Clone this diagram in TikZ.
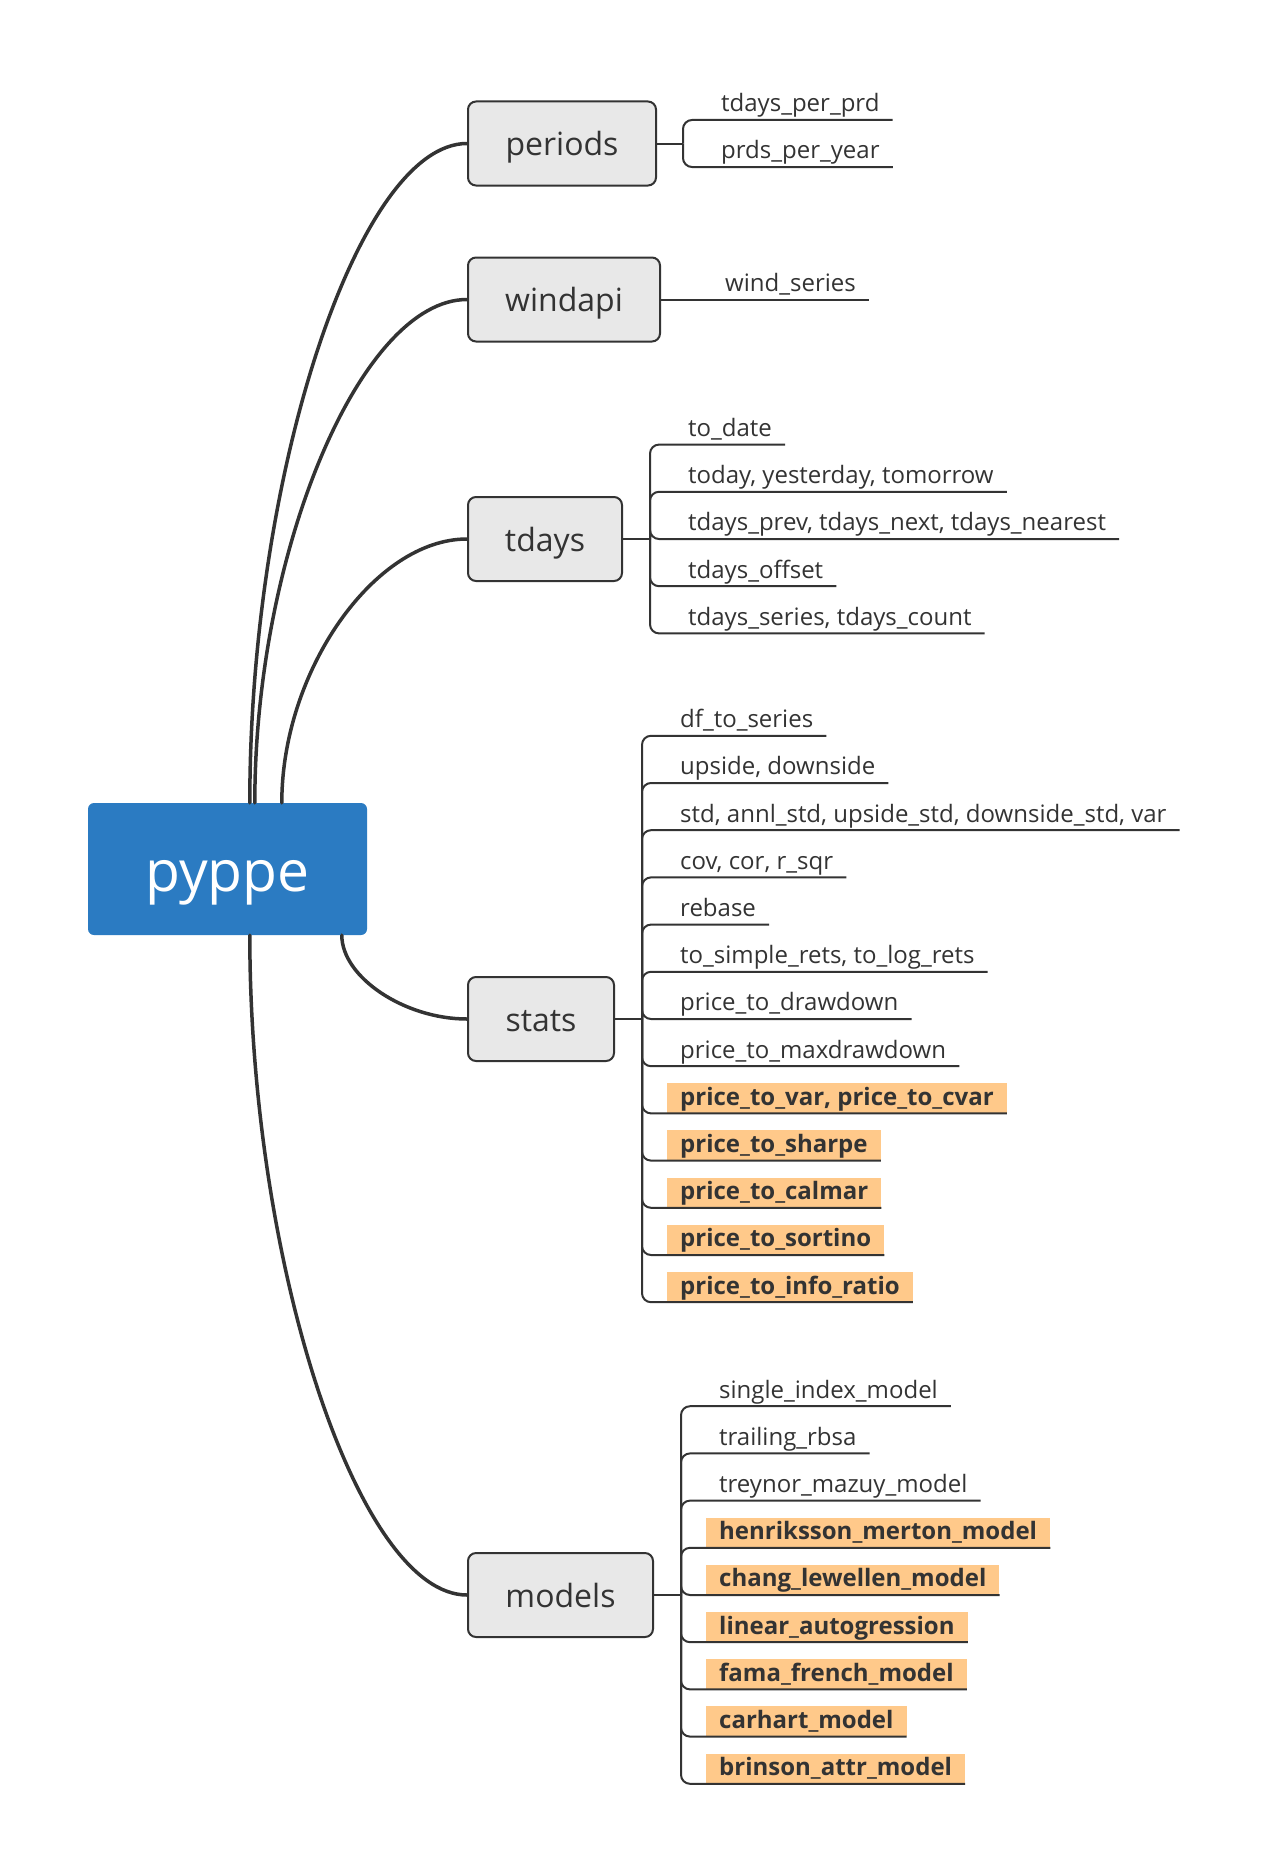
\documentclass[tikz,border=0pt]{standalone}
\usepackage{fontspec}
\setmainfont{Open Sans}
\usetikzlibrary{calc}
\definecolor{ink}{HTML}{333333}
\definecolor{rootblue}{HTML}{2B7BC2}
\definecolor{boxgray}{HTML}{E8E8E8}
\definecolor{hl}{HTML}{FFC98A}
\tikzset{
  rootbox/.style={fill=rootblue, rounded corners=6pt, text=white, font=\fontsize{57}{62}\selectfont, text height=60.9pt, text depth=16.7pt, minimum width=279pt, minimum height=132pt, inner sep=0pt},
  topic/.style={fill=boxgray, draw=ink, line width=2pt, rounded corners=8pt, text=ink, font=\fontsize{32}{36}\selectfont, text height=34.2pt, text depth=9.4pt, minimum height=84pt, inner sep=0pt, anchor=west},
  leaf/.style={anchor=south west, inner xsep=13pt, inner ysep=0pt, text height=22pt, text depth=8pt, text=ink, font=\fontsize{24}{28}\selectfont},
  hleaf/.style={leaf, fill=hl, font=\fontsize{24}{28}\selectfont\bfseries},
  trunk/.style={draw=ink, line width=3.5pt, line cap=round},
  twig/.style={draw=ink, line width=2pt, rounded corners=9pt},
}
\begin{document}
\begin{tikzpicture}[x=1pt, y=-1pt]
\useasboundingbox (0,0) rectangle (1265,1873);

% root
\node[rootbox] (root) at (227.5,869) {pyppe};

% topics
\node[topic, minimum width=188pt] (periods) at (467,143.5) {periods};
\node[topic, minimum width=192pt] (windapi) at (467,299.5) {windapi};
\node[topic, minimum width=154pt] (tdays) at (467,539) {tdays};
\node[topic, minimum width=146pt] (stats) at (467,1019) {stats};
\node[topic, minimum width=185pt] (models) at (467,1595) {models};

% trunk start points
\coordinate (r1) at ($(root.north west)+(162,0)$);
\coordinate (r2) at ($(root.north west)+(167,0)$);
\coordinate (r3) at ($(root.north west)+(194,0)$);
\coordinate (r4) at ($(root.south west)+(254,0)$);
\coordinate (r5) at ($(root.south west)+(162,0)$);

\draw[trunk] (r1) .. controls ($(r1)!0.5!(r1|-periods.west)$) and ($(periods.west)!0.5!(r1|-periods.west)$) .. (periods.west);
\draw[trunk] (r2) .. controls ($(r2)!0.5!(r2|-windapi.west)$) and ($(windapi.west)!0.5!(r2|-windapi.west)$) .. (windapi.west);
\draw[trunk] (r3) .. controls ($(r3)!0.5!(r3|-tdays.west)$) and ($(tdays.west)!0.5!(r3|-tdays.west)$) .. (tdays.west);
\draw[trunk] (r4) .. controls ($(r4)!0.5!(r4|-stats.west)$) and ($(stats.west)!0.5!(r4|-stats.west)$) .. (stats.west);
\draw[trunk] (r5) .. controls ($(r5)!0.5!(r5|-models.west)$) and ($(models.west)!0.5!(r5|-models.west)$) .. (models.west);

% periods
\coordinate (pj) at ($(periods.east)+(26,0)$);
\draw[twig] (periods.east) -- (pj);
\node[leaf] (p1) at ($(pj)+(25,-23.5)$) {tdays\_per\_prd};
\node[leaf] (p2) at ($(pj)+(25,23.5)$) {prds\_per\_year};
\draw[twig] (pj) |- (p1.south east);
\draw[twig] (pj) |- (p2.south east);

% windapi
\coordinate (wj) at ($(windapi.east)+(26,0)$);
\node[leaf] (w1) at ($(wj)+(25,0)$) {wind\_series};
\draw[twig] (windapi.east) -- (w1.south east);

% tdays
\coordinate (tj) at ($(tdays.east)+(27,0)$);
\draw[twig] (tdays.east) -- (tj);
\node[leaf] (t1) at ($(tj)+(25,-94.4)$) {to\_date};
\node[leaf] (t2) at ($(tj)+(25,-47.2)$) {today, yesterday, tomorrow};
\node[leaf] (t3) at ($(tj)+(25,0)$) {tdays\_prev, tdays\_next, tdays\_nearest};
\node[leaf] (t4) at ($(tj)+(25,47.2)$) {tdays\_offset};
\node[leaf] (t5) at ($(tj)+(25,94.4)$) {tdays\_series, tdays\_count};
\foreach \n in {t1,t2,t3,t4,t5} \draw[twig] (tj) |- (\n.south east);

% stats
\coordinate (sj) at ($(stats.east)+(27,0)$);
\draw[twig] (stats.east) -- (sj);
\node[leaf] (s1) at ($(sj)+(25,-283.2)$) {df\_to\_series};
\node[leaf] (s2) at ($(sj)+(25,-236)$) {upside, downside};
\node[leaf] (s3) at ($(sj)+(25,-188.8)$) {std, annl\_std, upside\_std, downside\_std, var};
\node[leaf] (s4) at ($(sj)+(25,-141.6)$) {cov, cor, r\_sqr};
\node[leaf] (s5) at ($(sj)+(25,-94.4)$) {rebase};
\node[leaf] (s6) at ($(sj)+(25,-47.2)$) {to\_simple\_rets, to\_log\_rets};
\node[leaf] (s7) at ($(sj)+(25,0)$) {price\_to\_drawdown};
\node[leaf] (s8) at ($(sj)+(25,47.2)$) {price\_to\_maxdrawdown};
\node[hleaf] (s9) at ($(sj)+(25,94.4)$) {price\_to\_var, price\_to\_cvar};
\node[hleaf] (s10) at ($(sj)+(25,141.6)$) {price\_to\_sharpe};
\node[hleaf] (s11) at ($(sj)+(25,188.8)$) {price\_to\_calmar};
\node[hleaf] (s12) at ($(sj)+(25,236)$) {price\_to\_sortino};
\node[hleaf] (s13) at ($(sj)+(25,283.2)$) {price\_to\_info\_ratio};
\foreach \n in {s1,s2,s3,s4,s5,s6,s7,s8,s9,s10,s11,s12,s13} \draw[twig] (sj) |- (\n.south east);

% models
\coordinate (mj) at ($(models.east)+(27,0)$);
\draw[twig] (models.east) -- (mj);
\node[leaf] (m1) at ($(mj)+(25,-188.8)$) {single\_index\_model};
\node[leaf] (m2) at ($(mj)+(25,-141.6)$) {trailing\_rbsa};
\node[leaf] (m3) at ($(mj)+(25,-94.4)$) {treynor\_mazuy\_model};
\node[hleaf] (m4) at ($(mj)+(25,-47.2)$) {henriksson\_merton\_model};
\node[hleaf] (m5) at ($(mj)+(25,0)$) {chang\_lewellen\_model};
\node[hleaf] (m6) at ($(mj)+(25,47.2)$) {linear\_autogression};
\node[hleaf] (m7) at ($(mj)+(25,94.4)$) {fama\_french\_model};
\node[hleaf] (m8) at ($(mj)+(25,141.6)$) {carhart\_model};
\node[hleaf] (m9) at ($(mj)+(25,188.8)$) {brinson\_attr\_model};
\foreach \n in {m1,m2,m3,m4,m5,m6,m7,m8,m9} \draw[twig] (mj) |- (\n.south east);
\end{tikzpicture}
\end{document}
